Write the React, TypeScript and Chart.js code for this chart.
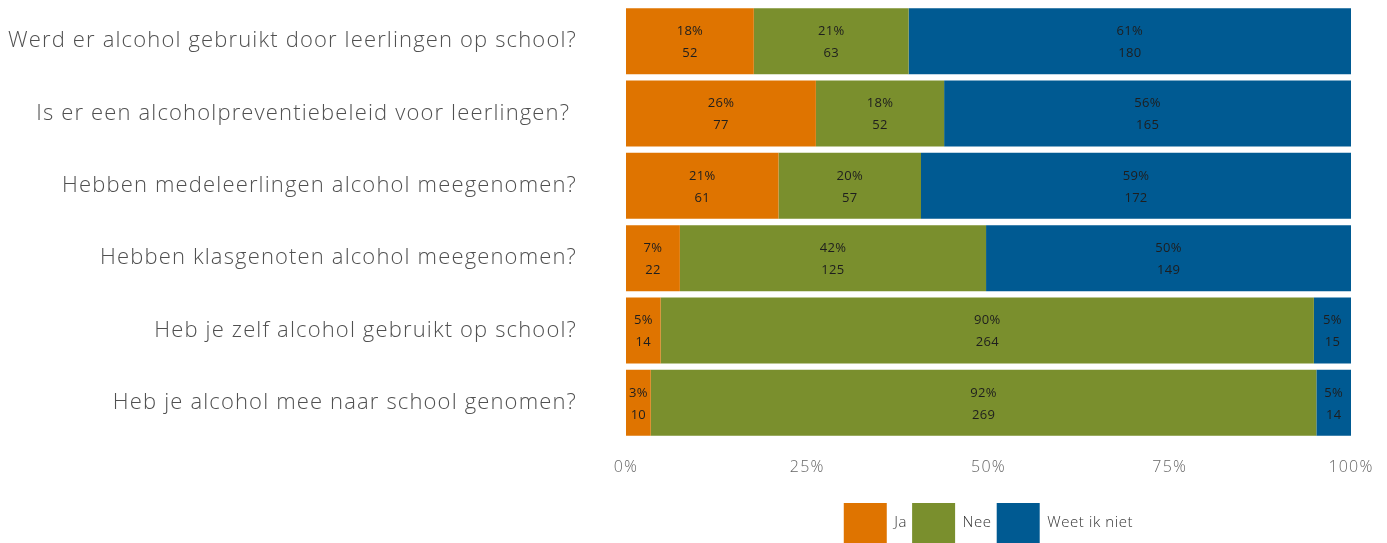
import React, { useEffect, useRef } from "react";
import { Chart, registerables } from "chart.js";

Chart.register(...registerables);

const categories = [
  "Werd er alcohol gebruikt door leerlingen op school?",
  "Is er een alcoholpreventiebeleid voor leerlingen? ",
  "Hebben medeleerlingen alcohol meegenomen?",
  "Hebben klasgenoten alcohol meegenomen?",
  "Heb je zelf alcohol gebruikt op school?",
  "Heb je alcohol mee naar school genomen?",
];
const seriesNames = ["Ja", "Nee", "Weet ik niet"];
const jaCounts = [52, 77, 61, 22, 14, 10];
const neeCounts = [63, 52, 57, 125, 264, 269];
const weetCounts = [180, 165, 172, 149, 15, 14];
const jaPct = [18, 26, 21, 7, 5, 3];
const neePct = [21, 18, 20, 42, 90, 92];
const weetPct = [61, 56, 59, 50, 5, 5];
const xTickValues = [0, 25, 50, 75, 100];
const colors = ["#DF7400", "#7A8F2D", "#005A92"];

const FONT = "'Open Sans', Lato, sans-serif";

function withSpacing(obj: any, method: string, spacing: string) {
  const orig = obj[method];
  obj[method] = function (...args: any[]) {
    const c = this.ctx;
    const prev = c.letterSpacing;
    c.letterSpacing = spacing;
    try {
      return orig.apply(this, args);
    } finally {
      c.letterSpacing = prev;
    }
  };
}

export default function App() {
  const ref = useRef<HTMLCanvasElement | null>(null);

  useEffect(() => {
    if (!ref.current) return;
    const counts = [jaCounts, neeCounts, weetCounts];
    const pcts = [jaPct, neePct, weetPct];
    const totals = categories.map((_, i) => jaCounts[i] + neeCounts[i] + weetCounts[i]);
    const datasets = counts.map((arr, k) => ({
      label: seriesNames[k],
      data: arr.map((v, i) => (v / totals[i]) * 100),
      backgroundColor: colors[k],
      borderWidth: 0,
      barPercentage: 0.9125,
      categoryPercentage: 1,
    }));

    const labelPlugin = {
      id: "segLabels",
      afterDatasetsDraw(chart: any) {
        const ctx = chart.ctx;
        ctx.save();
        ctx.fillStyle = "#1e1e1e";
        ctx.font = `400 13px ${FONT}`;
        ctx.letterSpacing = "0.3px";
        ctx.textAlign = "center";
        ctx.textBaseline = "middle";
        chart.data.datasets.forEach((_: any, k: number) => {
          const meta = chart.getDatasetMeta(k);
          meta.data.forEach((bar: any, i: number) => {
            const cx = (bar.x + bar.base) / 2;
            const cy = bar.y;
            ctx.fillText(`${pcts[k][i]}%`, cx, cy - 10);
            ctx.fillText(`${counts[k][i]}`, cx, cy + 12);
          });
        });
        ctx.restore();
      },
    };

    const chart = new Chart(ref.current, {
      type: "bar",
      data: { labels: categories, datasets },
      options: {
        indexAxis: "y",
        animation: false,
        responsive: false,
        events: [],
        layout: { padding: { top: 5, right: 36, left: 0, bottom: 0 } },
        scales: {
          x: {
            stacked: true,
            min: 0,
            max: 100,
            grid: { display: false, drawTicks: false },
            border: { display: false },
            afterBuildTicks: (scale: any) => {
              scale.ticks = xTickValues.map((v) => ({ value: v }));
            },
            afterFit: (scale: any) => {
              scale.height = 59;
              scale.paddingLeft = 0;
              scale.paddingRight = 0;
            },
            ticks: {
              padding: 19,
              color: "#666666",
              font: { family: FONT, size: 16, weight: "300" as any },
              callback: (v: any) => `${v}%`,
            },
          },
          y: {
            stacked: true,
            grid: { display: false, drawTicks: false },
            border: { display: false },
            afterFit: (scale: any) => {
              scale.width = 626;
              scale.paddingTop = 0;
              scale.paddingBottom = 0;
            },
            ticks: {
              padding: 49,
              color: "#505050",
              font: { family: FONT, size: 22, weight: "300" as any },
            },
          },
        },
        plugins: {
          tooltip: { enabled: false },
          legend: {
            position: "bottom",
            fullSize: false,
            labels: {
              boxWidth: 43,
              boxHeight: 40,
              padding: 5,
              color: "#333333",
              font: { family: FONT, size: 15, weight: "300" as any },
            },
          },
        },
      },
      plugins: [labelPlugin],
    });

    const anyChart = chart as any;
    withSpacing(anyChart.scales.y, "drawLabels", "1.15px");
    withSpacing(anyChart.scales.x, "drawLabels", "1.2px");
    if (anyChart.legend) {
      withSpacing(anyChart.legend, "fit", "0.6px");
      withSpacing(anyChart.legend, "draw", "0.6px");
    }
    chart.update();

    return () => chart.destroy();
  }, []);

  return (
    <div style={{ position: "absolute", left: 0, top: 0, width: 1387, height: 543, overflow: "hidden" }}>
      <canvas ref={ref} width={1387} height={553} style={{ display: "block", width: 1387, height: 553 }} />
    </div>
  );
}
